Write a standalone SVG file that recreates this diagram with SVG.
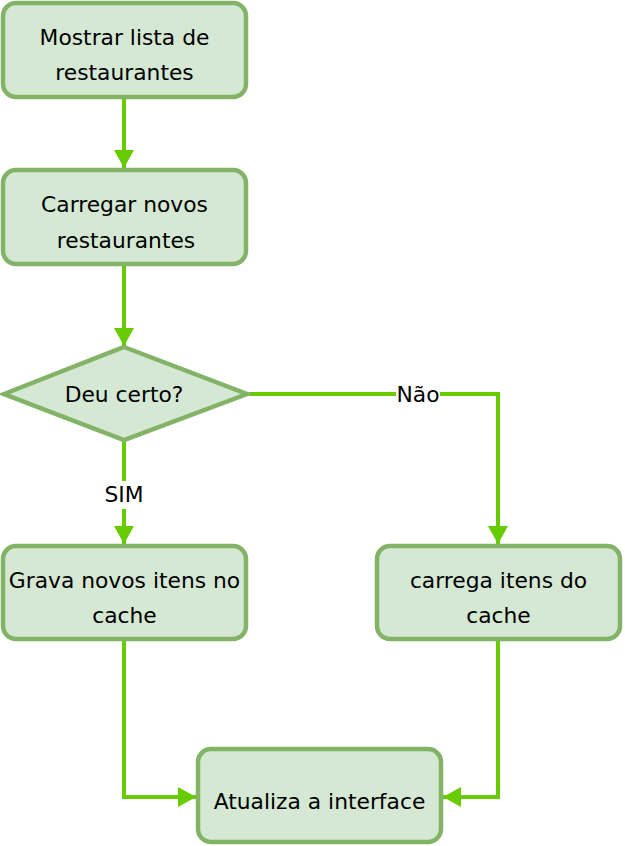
<svg xmlns="http://www.w3.org/2000/svg" width="625" height="846" viewBox="0 0 625 846">
<style>
.node{fill:#d5e8d4;stroke:#82b366;stroke-width:4.5}
.t{font-family:"DejaVu Sans",Verdana,sans-serif;font-size:21.8px;fill:#000;text-anchor:middle;dominant-baseline:central}
.c{fill:none;stroke:#66cc00;stroke-width:4}
</style>
<defs>
<marker id="ah" viewBox="0 0 18 20" refX="18" refY="10" markerWidth="18" markerHeight="20" markerUnits="userSpaceOnUse" orient="auto">
<path d="M0,0 L18,10 L0,20 Z" fill="#66cc00"/>
</marker>
</defs>
<rect width="625" height="846" fill="#fff"/>
<g id="connectors">
<path class="c" d="M124,97 V168" marker-end="url(#ah)"/>
<path class="c" d="M124,265 V346" marker-end="url(#ah)"/>
<path class="c" d="M124,441 V544" marker-end="url(#ah)"/>
<path class="c" d="M249,394 H498 V544" marker-end="url(#ah)"/>
<path class="c" d="M124,639 V797 H196" marker-end="url(#ah)"/>
<path class="c" d="M498,639 V797 H443" marker-end="url(#ah)"/>
<rect x="396" y="382" width="44" height="24" fill="#fff"/>
<text class="t" x="418" y="394">Não</text>
<rect x="102" y="481" width="44" height="28" fill="#fff"/>
<text class="t" x="124" y="494">SIM</text>
</g>
<g id="n1">
<rect class="node" x="3" y="3" width="243" height="94" rx="13"/>
<text class="t" x="124.5" y="37">Mostrar lista de</text>
<text class="t" x="124.5" y="72">restaurantes</text>
</g>
<g id="n2">
<rect class="node" x="3" y="170" width="243" height="94" rx="13"/>
<text class="t" x="124.5" y="204">Carregar novos</text>
<text class="t" x="126" y="240">restaurantes</text>
</g>
<g id="n3">
<path class="node" d="M124,347 L247,394 L124,440 L4,394 Z"/>
<text class="t" x="124" y="394">Deu certo?</text>
</g>
<g id="n4">
<rect class="node" x="3" y="546" width="243" height="93" rx="13"/>
<text class="t" x="124.5" y="580">Grava novos itens no</text>
<text class="t" x="124.5" y="615">cache</text>
</g>
<g id="n5">
<rect class="node" x="377" y="546" width="243" height="93" rx="13"/>
<text class="t" x="498.5" y="580">carrega itens do</text>
<text class="t" x="498.5" y="615">cache</text>
</g>
<g id="n6">
<rect class="node" x="198" y="749" width="243" height="93" rx="13"/>
<text class="t" x="319.5" y="801">Atualiza a interface</text>
</g>
</svg>
